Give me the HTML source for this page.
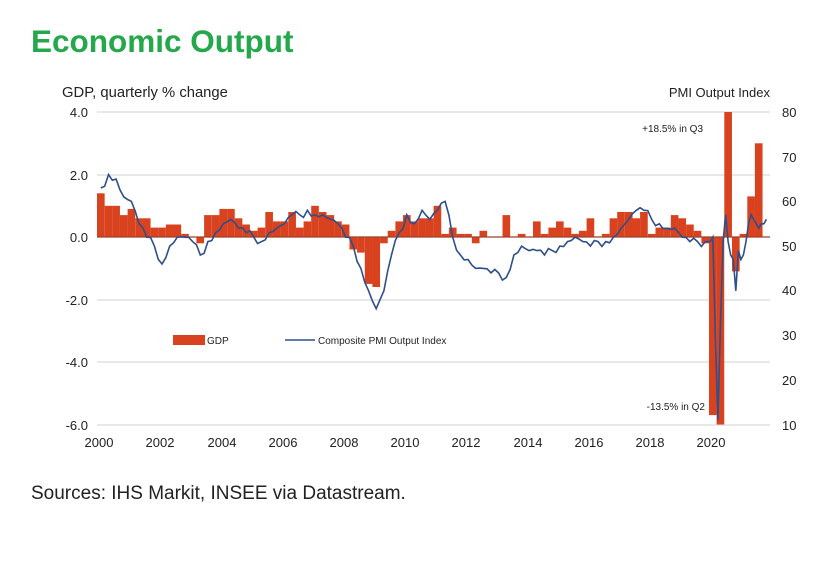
<!DOCTYPE html>
<html><head><meta charset="utf-8"><style>
body{margin:0;background:#fff;width:824px;height:569px;overflow:hidden;font-family:"Liberation Sans",sans-serif}
</style></head><body>
<svg id="s" width="824" height="569" xmlns="http://www.w3.org/2000/svg" font-family="Liberation Sans, sans-serif">
<text x="31" y="52" font-size="31.5" font-weight="bold" fill="#25a84b">Economic Output</text>
<text x="62" y="97" font-size="14.8" fill="#222">GDP, quarterly % change</text>
<text x="770" y="97" font-size="13" fill="#222" text-anchor="end">PMI Output Index</text>
<g stroke="#d9d9d9" stroke-width="1.2">
<line x1="97" x2="770" y1="112" y2="112"/><line x1="97" x2="770" y1="175" y2="175"/>
<line x1="97" x2="770" y1="300" y2="300"/><line x1="97" x2="770" y1="362" y2="362"/>
<line x1="97" x2="770" y1="425" y2="425"/>
</g>
<g font-size="13" fill="#222" text-anchor="end">
<text x="88" y="117">4.0</text><text x="88" y="180">2.0</text><text x="88" y="242">0.0</text>
<text x="88" y="305">-2.0</text><text x="88" y="367">-4.0</text><text x="88" y="430">-6.0</text>
</g>
<g font-size="13" fill="#222">
<text x="782" y="117">80</text><text x="782" y="162">70</text><text x="782" y="206">60</text>
<text x="782" y="251">50</text><text x="782" y="295">40</text><text x="782" y="340">30</text>
<text x="782" y="385">20</text><text x="782" y="430">10</text>
</g>
<g font-size="13" fill="#222" text-anchor="middle">
<text x="99" y="447">2000</text><text x="160" y="447">2002</text><text x="222" y="447">2004</text>
<text x="283" y="447">2006</text><text x="344" y="447">2008</text><text x="405" y="447">2010</text>
<text x="466" y="447">2012</text><text x="528" y="447">2014</text><text x="589" y="447">2016</text>
<text x="650" y="447">2018</text><text x="711" y="447">2020</text>
</g>
<g id="bars" fill="#d9421f"></g>
<line x1="97" x2="770" y1="237" y2="237" stroke="#a0402a" stroke-width="1.2"/>
<polyline id="pmi" fill="none" stroke="#2d4f8a" stroke-width="1.6"/>
<rect x="173" y="335" width="32" height="10" fill="#d9421f"/>
<text x="207" y="344" font-size="10" fill="#222">GDP</text>
<line x1="285" x2="315" y1="340" y2="340" stroke="#2d4f8a" stroke-width="1.6"/>
<text x="318" y="344" font-size="10" fill="#222">Composite PMI Output Index</text>
<text x="703" y="132" font-size="10" fill="#222" text-anchor="end">+18.5% in Q3</text>
<text x="705" y="410" font-size="10" fill="#222" text-anchor="end">-13.5% in Q2</text>
<text x="31" y="499" font-size="19" fill="#222">Sources: IHS Markit, INSEE via Datastream.</text>
</svg>
<script>
var g=[1.4,1.0,1.0,0.7, 0.9,0.6,0.6,0.3, 0.3,0.4,0.4,0.1, 0.0,-0.2,0.7,0.7, 0.9,0.9,0.6,0.4, 0.2,0.3,0.8,0.5, 0.5,0.8,0.3,0.5, 1.0,0.8,0.7,0.5, 0.4,-0.4,-0.5,-1.5, -1.6,-0.2,0.2,0.5, 0.7,0.5,0.6,0.6, 1.0,0.1,0.3,0.1, 0.1,-0.2,0.2,0.0, 0.0,0.7,0.0,0.1, 0.0,0.5,0.1,0.3, 0.5,0.3,0.1,0.2, 0.6,0.0,0.1,0.6, 0.8,0.8,0.6,0.8, 0.1,0.3,0.3,0.7, 0.6,0.4,0.2,-0.2, -5.7,-13.5,18.5,-1.1, 0.1,1.3,3.0,0.0];
var W=30.6/4,b='';
function gy(v){return 237-v*31.25;}
for(var i=0;i<g.length;i++){var v=Math.max(-6,Math.min(4,g[i]));var y0=gy(0),y1=gy(v);
b+='<rect x="'+(97+i*W).toFixed(1)+'" y="'+Math.min(y0,y1).toFixed(1)+'" width="'+W.toFixed(2)+'" height="'+Math.abs(y1-y0).toFixed(1)+'"/>';}
document.getElementById('bars').innerHTML=b;
var p=[63,66,65,61, 60,55,52,50, 46,50,52,52, 51,48,51,53, 55,56,54,53, 52,51,53,54, 55,57,57,58, 57,57,56,55, 52,50,45,40, 36,40,48,53, 57,55,58,56, 58,60,52,48, 47,45,45,44, 44,43,48,50, 49,49,48,49, 50,51,52,51, 50,51,51,52, 54,56,58,58, 56,55,54,54, 52,51,51,51];
var pts=[];
for(var i=0;i<p.length;i++){pts.push([97+i*W+W/2,p[i]]);
 if(i<p.length-1){var n=(i*7919%13)/13-0.5;pts.push([97+i*W+W,(p[i]+p[i+1])/2+n*2.2]);}}
var t20=2020-2000;var m=[51,52,30,11,33,51,57,51,48,47,40,49, 47,48,51,55,57,56,55,54,55,55,56];
for(var j=0;j<m.length;j++){pts.push([97+(t20+j/12)*30.6+1.3,m[j]]);}
document.getElementById('pmi').setAttribute('points',pts.map(function(q){return q[0].toFixed(1)+','+(112+(80-q[1])*4.47).toFixed(1)}).join(' '));
</script>
</body></html>
